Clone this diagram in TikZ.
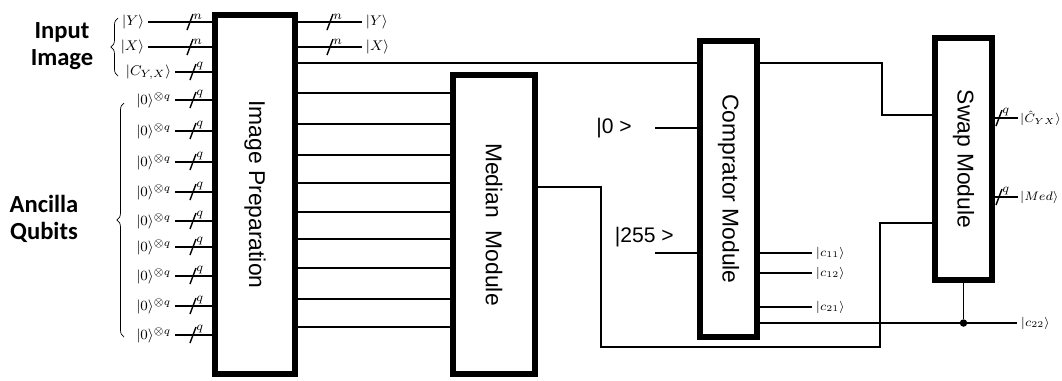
\documentclass[tikz,border=0pt]{standalone}
\usepackage{amsmath,amssymb}
\usepackage{fontspec}
\setsansfont{Liberation Sans}
\newfontfamily\headfont{Carlito}
\usetikzlibrary{decorations.pathreplacing}
\tikzset{
  modbox/.style={draw,line width=3.4pt,fill=white,inner sep=0pt,font=\sffamily\fontsize{13}{15}\selectfont},
  wire/.style={line width=0.8pt},
  ket/.style={inner sep=2pt,font=\footnotesize},
  tket/.style={inner sep=2pt,font=\scriptsize},
  head/.style={align=center,font=\headfont\bfseries\fontsize{14}{15.5}\selectfont},
  bus/.pic={\draw[line width=0.8pt](-3,8)--(3,-8);
    \node[inner sep=0pt,anchor=south west,font=\scriptsize](-q) at (3,-2){$#1$};}
}
\begin{document}
\begin{tikzpicture}[x=0.02cm,y=-0.02cm]
\useasboundingbox (0,0) rectangle (1062,380);
\node[modbox,minimum width=1.6cm,minimum height=7.18cm](prep) at (255,194.5){\rotatebox{-90}{Image Preparation}};
\node[modbox,minimum width=1.64cm,minimum height=5.98cm](med) at (494,224.5){\rotatebox{-90}{Median\ \ Module}};
\node[modbox,minimum width=1.14cm,minimum height=5.92cm](cmp) at (728.5,189){\rotatebox{-90}{Comprator Module}};
\node[modbox,minimum width=1.14cm,minimum height=4.84cm](sw) at (963.5,159){\rotatebox{-90}{Swap Module}};
\node[head](inimg) at (62,46){Input\\Image};
\node[head](anc) at (44,219){Ancilla\\Qubits};
\draw[decorate,decoration={brace,amplitude=4pt}](118,76)--(118,18);
\draw[decorate,decoration={brace,amplitude=4pt}](124,337)--(124,103);
\node[ket,left](iy) at (148,22){$|Y\rangle$};
\node[ket,left](ix) at (148,47){$|X\rangle$};
\node[ket,left](ic) at (175,72){$|C_{Y,X}\rangle$};
\draw[wire](iy)--(iy-|prep.west);
\draw[wire](ix)--(ix-|prep.west);
\draw[wire](ic)--(ic-|prep.west);
\pic at (190,22){bus=n};
\pic at (190,47){bus=n};
\pic at (193,72){bus=q};
\foreach \y [count=\i] in {100,131,162,192,221,247,276,306,335}{
  \node[ket,left](a\i) at (175,\y){$|0\rangle^{\otimes q}$};
  \draw[wire](a\i)--(a\i-|prep.west);
  \pic at (193,\y){bus=q};
}
\node[ket,right](oy) at (362,22){$|Y\rangle$};
\node[ket,right](ox) at (362,47){$|X\rangle$};
\draw[wire](prep.east|-oy)--(oy);
\draw[wire](prep.east|-ox)--(ox);
\pic at (330,22){bus=n};
\pic at (330,47){bus=n};
\foreach \y [count=\i] in {93,124,155,183,212,239,268,299,327}{
  \coordinate(m\i) at (med.west|-0,\y);
  \draw[wire](prep.east|-m\i)--(m\i);
}
\draw[wire](prep.east|-0,63)--(cmp.west|-0,63);
\draw[wire](cmp.east|-0,63)-|(882,115)--(sw.west|-0,115);
\draw[wire](med.east|-0,187)-|(601,347)-|(880,223)--(sw.west|-0,223);
\node[font=\sffamily\fontsize{12}{14}\selectfont,left](zero) at (638,128){|0 >};
\node[font=\sffamily\fontsize{12}{14}\selectfont,left](top) at (680,237){|255 >};
\coordinate(zin) at (655,128);
\coordinate(tin) at (655,253);
\draw[wire](zin)--(cmp.west|-zin);
\draw[wire](tin)--(cmp.west|-tin);
\node[tket,right](c11) at (812,253){$|c_{11}\rangle$};
\node[tket,right](c12) at (812,273){$|c_{12}\rangle$};
\node[tket,right](c21) at (812,307){$|c_{21}\rangle$};
\node[tket,right](c22) at (1017,323){$|c_{22}\rangle$};
\draw[wire](cmp.east|-c11)--(c11);
\draw[wire](cmp.east|-c12)--(c12);
\draw[wire](cmp.east|-c21)--(c21);
\draw[wire](cmp.east|-c22)--(c22);
\node[circle,fill,inner sep=0pt,minimum size=0.15cm](dot) at (sw.south|-c22){};
\draw[wire](sw.south)--(dot);
\node[tket,right,inner sep=1pt](chat) at (1018,118){$|\hat{C}_{YX}\rangle$};
\node[tket,right,inner sep=1pt](omed) at (1018,197){$|Med\rangle$};
\draw[wire](sw.east|-chat)--(chat);
\draw[wire](sw.east|-omed)--(omed);
\pic at (999,118){bus=q};
\pic at (999,197){bus=q};
\end{tikzpicture}
\end{document}
